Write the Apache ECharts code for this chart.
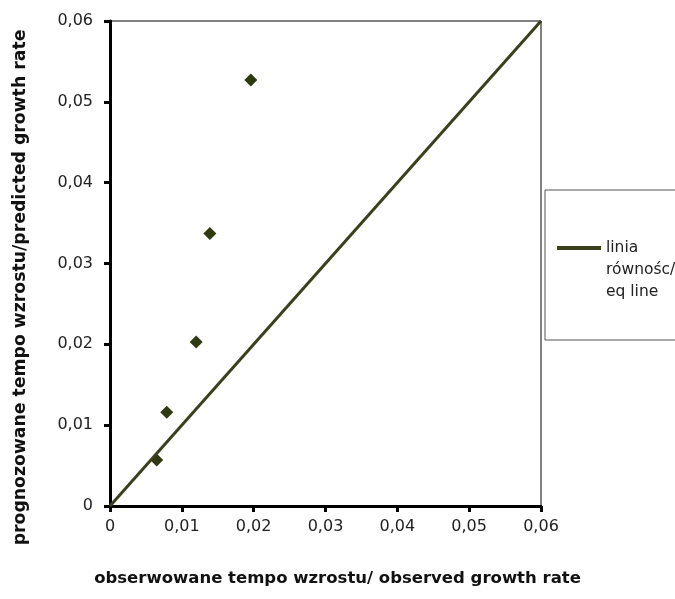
<!DOCTYPE html>
<html>
<head>
<meta charset="utf-8">
<script src="https://cdn.jsdelivr.net/npm/echarts@6/dist/echarts.min.js"></script>
<style>
  html, body { margin: 0; padding: 0; background: #fff; }
  #chart { width: 675px; height: 599px; }
</style>
</head>
<body>
<div id="chart"></div>
<script>
// observed vs predicted growth rate
var observed = [0.0065, 0.0079, 0.0120, 0.0139, 0.0196];
var predicted = [0.0057, 0.0116, 0.0203, 0.0337, 0.0527];
var eqLine = [[0, 0], [0.06, 0.06]];
var lineName = "linia\nrównośc/\neq line";

var points = observed.map(function (x, i) { return [x, predicted[i]]; });

function fmt(v) {
  return v === 0 ? "0" : v.toFixed(2).replace(".", ",");
}

var axisBase = {
  type: "value",
  min: 0,
  max: 0.06,
  interval: 0.01,
  splitLine: { show: false },
  axisLine: { lineStyle: { color: "#000", width: 3 } },
  axisTick: { length: 6, lineStyle: { color: "#000", width: 3 } },
  nameLocation: "middle"
};
var labelStyle = { formatter: fmt, fontFamily: "DejaVu Sans", fontSize: 16, color: "#222" };
var nameStyle = { fontFamily: "DejaVu Sans", fontWeight: "bold", color: "#111" };

var myChart = echarts.init(document.getElementById("chart"));
myChart.setOption({
  animation: false,
  grid: {
    left: 110, top: 21, right: 134, bottom: 93,
    outerBoundsMode: "none",
    containLabel: false,
    show: true, borderColor: "#000", borderWidth: 1
  },
  xAxis: Object.assign({}, axisBase, {
    name: "obserwowane tempo wzrostu/ observed growth rate",
    nameGap: 64,
    nameTextStyle: Object.assign({ fontSize: 16.5, padding: [0, 0, 0, 24] }, nameStyle),
    axisLabel: Object.assign({ margin: 13 }, labelStyle)
  }),
  yAxis: Object.assign({}, axisBase, {
    name: "prognozowane tempo wzrostu/predicted growth rate",
    nameGap: 81,
    nameTextStyle: Object.assign({ fontSize: 17.3, padding: [0, 48, 0, 0] }, nameStyle),
    axisLabel: Object.assign({ margin: 17 }, labelStyle)
  }),
  graphic: [{
    type: "rect",
    shape: { x: 545, y: 190, width: 140, height: 150 },
    style: { fill: "#fff", stroke: "#555", lineWidth: 1 },
    z: 0
  }],
  legend: {
    left: 552, top: 188,
    data: [lineName],
    icon: "rect",
    itemWidth: 44, itemHeight: 4,
    formatter: function (name) {
      return "\n\n" + name;
    },
    textStyle: { fontFamily: "DejaVu Sans", fontSize: 15.5, color: "#222", lineHeight: 22 },
    z: 5
  },
  series: [
    {
      name: lineName,
      type: "line",
      data: eqLine,
      symbol: "none",
      lineStyle: { color: "#3b3f1c", width: 3 },
      itemStyle: { color: "#3b3f1c" }
    },
    {
      name: "points",
      type: "scatter",
      data: points,
      symbol: "diamond",
      symbolSize: 13,
      itemStyle: { color: "#2f3912", opacity: 1 }
    }
  ]
});
</script>
</body>
</html>
